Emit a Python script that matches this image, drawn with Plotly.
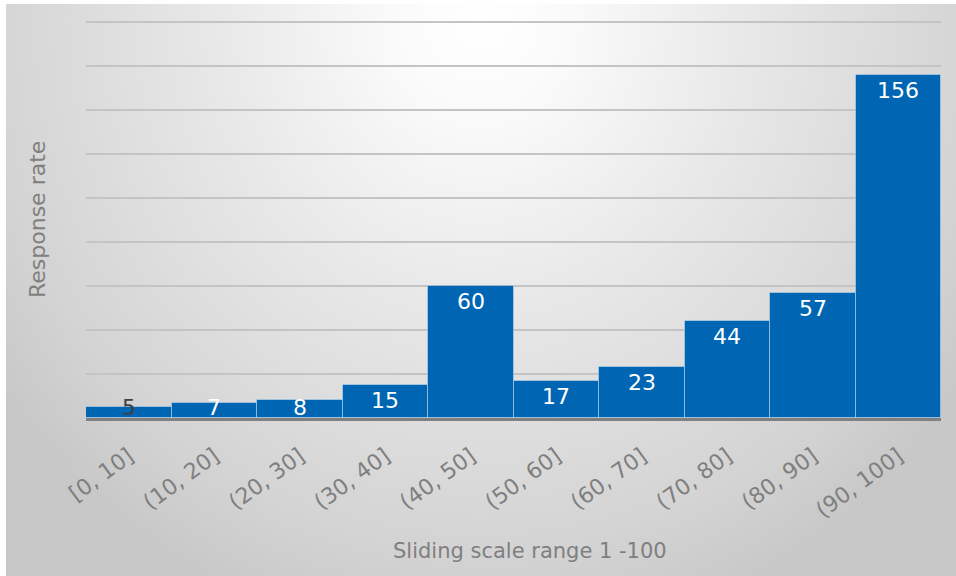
import base64
import plotly.graph_objects as go

# Response counts per sliding-scale bucket
categories = ["[0, 10]", "(10, 20]", "(20, 30]", "(30, 40]", "(40, 50]",
              "(50, 60]", "(60, 70]", "(70, 80]", "(80, 90]", "(90, 100]"]
responses = [5, 7, 8, 15, 60, 17, 23, 44, 57, 156]
label_colors = ["#404040", "white", "white", "white", "white",
                "white", "white", "white", "white", "white"]

FONT = "DejaVu Sans"
GRAY = "#7f7f7f"
BAR = "#0066B3"

W, H = 956, 576
M_L, M_R, M_T, M_B = 86, 15, 21, 158
Y_MAX = 180.5
plot_w = W - M_L - M_R
plot_h = H - M_T - M_B
px_per_unit = plot_h / Y_MAX

# soft radial backdrop for the chart area
svg = (
    "<svg xmlns='http://www.w3.org/2000/svg' width='950' height='572' "
    "preserveAspectRatio='none'>"
    "<defs><radialGradient id='g' cx='0.5' cy='0.03' r='1' "
    "gradientTransform='translate(0.5,0.03) scale(0.62,1.1) translate(-0.5,-0.03)'>"
    "<stop offset='0' stop-color='#ffffff'/>"
    "<stop offset='0.15' stop-color='#fafafa'/>"
    "<stop offset='0.45' stop-color='#e8e8e8'/>"
    "<stop offset='0.85' stop-color='#d3d3d3'/>"
    "<stop offset='1' stop-color='#c8c8c8'/>"
    "</radialGradient></defs>"
    "<rect width='950' height='572' fill='url(#g)'/></svg>"
)
bg_src = "data:image/svg+xml;base64," + base64.b64encode(svg.encode()).decode()

fig = go.Figure()
fig.add_trace(go.Bar(
    x=categories,
    y=responses,
    marker=dict(color=BAR, line=dict(color="rgba(255,255,255,0.35)", width=1)),
    hoverinfo="x+y",
))

# value labels at the inside end of each bar, kept above the axis for short bars
label_h = 24
for cat, val, col in zip(categories, responses, label_colors):
    if val * px_per_unit >= label_h:
        fig.add_annotation(x=cat, y=val, text=str(val), showarrow=False,
                           yanchor="top", yshift=-1,
                           font=dict(family=FONT, size=22, color=col))
    else:
        fig.add_annotation(x=cat, y=0, text=str(val), showarrow=False,
                           yanchor="bottom", yshift=-4,
                           font=dict(family=FONT, size=22, color=col))

# axis titles
fig.add_annotation(xref="paper", yref="paper", x=(530 - M_L) / plot_w,
                   y=(H - M_B - 551) / plot_h, text="Sliding scale range 1 -100",
                   showarrow=False, xanchor="center", yanchor="middle",
                   font=dict(family=FONT, size=21, color=GRAY))
fig.add_annotation(xref="paper", yref="paper", x=(38 - M_L) / plot_w,
                   y=(H - M_B - 220) / plot_h, text="Response rate", textangle=-90,
                   showarrow=False, xanchor="center", yanchor="middle",
                   font=dict(family=FONT, size=22, color=GRAY))

fig.add_layout_image(
    source=bg_src, xref="paper", yref="paper",
    x=(6 - M_L) / plot_w, y=(H - M_B - 4) / plot_h,
    sizex=(W - 6) / plot_w, sizey=(H - 4) / plot_h,
    xanchor="left", yanchor="top", sizing="stretch", layer="below",
)

fig.update_layout(
    width=W, height=H,
    margin=dict(l=M_L, r=M_R, t=M_T, b=M_B),
    paper_bgcolor="white",
    plot_bgcolor="rgba(0,0,0,0)",
    bargap=0,
    showlegend=False,
    font=dict(family=FONT, color=GRAY),
)
fig.update_xaxes(
    tickangle=-36,
    tickfont=dict(family=FONT, size=22, color=GRAY),
    showline=True, linecolor="#808080", linewidth=3,
    ticks="", ticklabelstandoff=14,
    showgrid=False,
)
fig.update_yaxes(
    range=[0, Y_MAX], dtick=20,
    showticklabels=False, ticks="",
    showgrid=True, gridcolor="#c4c4c4", gridwidth=1.5,
    zeroline=False, showline=False,
)

fig.write_html("out.html")
